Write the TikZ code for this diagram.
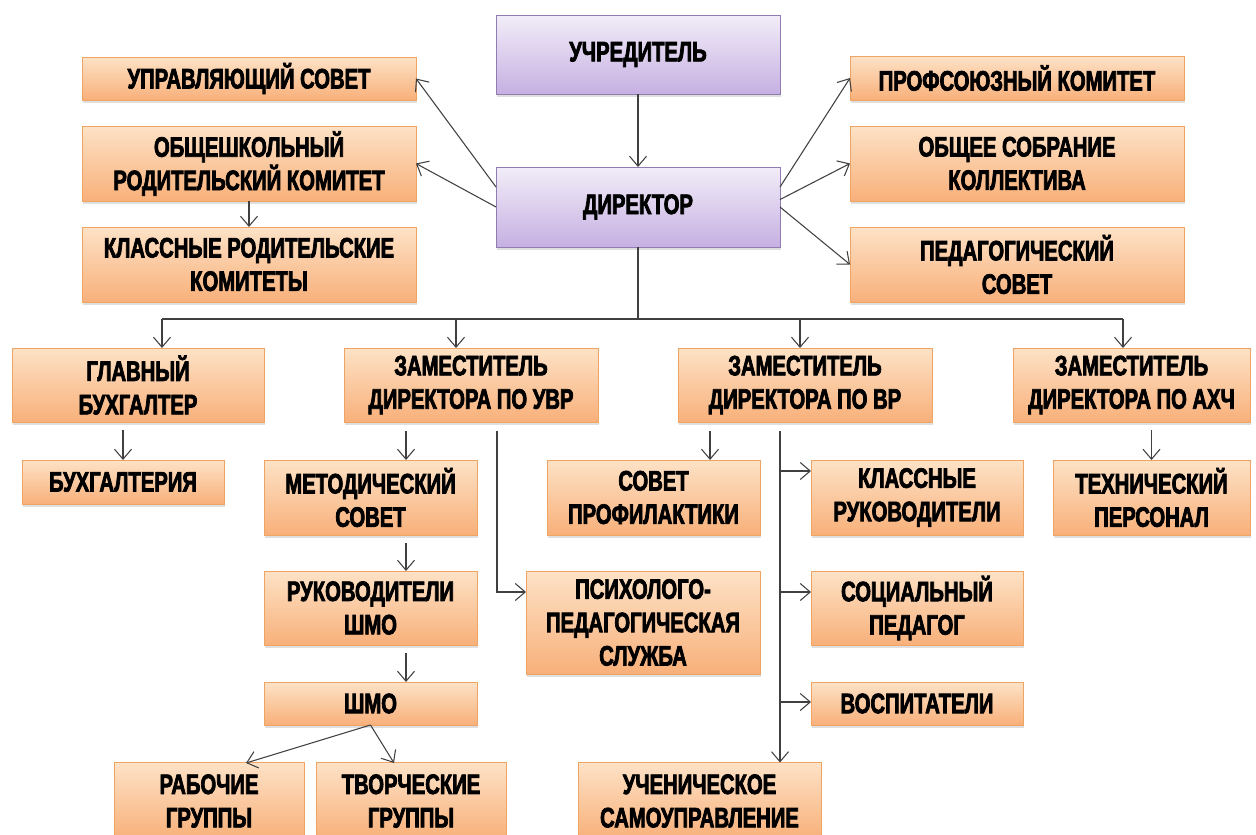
\documentclass[tikz,border=0pt]{standalone}
\usepackage{fontspec}
\newfontfamily\boxfont[FakeStretch=0.72,FakeBold=2.6]{Liberation Sans Bold}
\usetikzlibrary{arrows.meta,shadows}
\definecolor{orgtop}{HTML}{FDE2C6}
\definecolor{orgbot}{HTML}{F8B07A}
\definecolor{orgline}{HTML}{EFA464}
\definecolor{purtop}{HTML}{F2EDF8}
\definecolor{purbot}{HTML}{C6B0E2}
\definecolor{purline}{HTML}{8F7DB2}
\definecolor{conn}{HTML}{404040}

\begin{document}
\begin{tikzpicture}[x=0.02cm,y=-0.02cm, >={Straight Barb[length=2mm,width=3.4mm]},
  obox/.style={rectangle, inner sep=0pt, outer sep=0pt, draw=orgline, line width=0.5pt,
    top color=orgtop, bottom color=orgbot, align=center,
    font=\boxfont\fontsize{16}{19}\selectfont,
    drop shadow={opacity=0.25, shadow xshift=0.6pt, shadow yshift=-1.6pt}},
  pbox/.style={obox, draw=purline, top color=purtop, bottom color=purbot},
  link/.style={draw=conn, line width=0.6pt},
  gap/.style={shorten <=0.16cm}]
\useasboundingbox (0,0) rectangle (1256,834);
\fill[white] (0,0) rectangle (1256,834);

\node (uchr) at (638,54.5) [pbox, minimum width=5.68cm, minimum height=1.58cm] {УЧРЕДИТЕЛЬ};
\node (dir) at (638,207) [pbox, minimum width=5.68cm, minimum height=1.6cm] {ДИРЕКТОР};

\node (upr) at (249,78.5) [obox, minimum width=6.68cm, minimum height=0.86cm] {УПРАВЛЯЮЩИЙ СОВЕТ};
\node (obsh) at (249,163.5) [obox, minimum width=6.68cm, minimum height=1.5cm] {ОБЩЕШКОЛЬНЫЙ\\РОДИТЕЛЬСКИЙ КОМИТЕТ};
\node (klrod) at (249,264.5) [obox, minimum width=6.68cm, minimum height=1.5cm] {КЛАССНЫЕ РОДИТЕЛЬСКИЕ\\КОМИТЕТЫ};

\node (prof) at (1017,78) [obox, minimum width=6.68cm, minimum height=0.88cm] {ПРОФСОЮЗНЫЙ КОМИТЕТ};
\node (sobr) at (1017,163.5) [obox, minimum width=6.68cm, minimum height=1.5cm] {ОБЩЕЕ СОБРАНИЕ\\КОЛЛЕКТИВА};
\node (ped) at (1017,264.5) [obox, minimum width=6.68cm, minimum height=1.5cm] {ПЕДАГОГИЧЕСКИЙ\\СОВЕТ};

\node (glb) at (138,385) [obox, minimum width=5.04cm, minimum height=1.48cm] {ГЛАВНЫЙ\\БУХГАЛТЕР};
\node (zuvr) at (471,385) [obox, minimum width=5.08cm, minimum height=1.48cm] {ЗАМЕСТИТЕЛЬ\\ДИРЕКТОРА ПО УВР};
\node (zvr) at (805,385) [obox, minimum width=5.08cm, minimum height=1.48cm] {ЗАМЕСТИТЕЛЬ\\ДИРЕКТОРА ПО ВР};
\node (zahch) at (1131.5,385) [obox, minimum width=4.74cm, minimum height=1.48cm] {ЗАМЕСТИТЕЛЬ\\ДИРЕКТОРА ПО АХЧ};

\node (buh) at (123,482) [obox, minimum width=4.04cm, minimum height=0.88cm] {БУХГАЛТЕРИЯ};
\node (met) at (370.5,497.5) [obox, minimum width=4.26cm, minimum height=1.5cm] {МЕТОДИЧЕСКИЙ\\СОВЕТ};
\node (ruk) at (370.5,608) [obox, minimum width=4.26cm, minimum height=1.48cm] {РУКОВОДИТЕЛИ\\ШМО};
\node (shmo) at (370.5,703.5) [obox, minimum width=4.26cm, minimum height=0.86cm] {ШМО};
\node (rab) at (209,801) [obox, minimum width=3.8cm, minimum height=1.54cm] {РАБОЧИЕ\\ГРУППЫ};
\node (tvor) at (411,801) [obox, minimum width=3.8cm, minimum height=1.54cm] {ТВОРЧЕСКИЕ\\ГРУППЫ};

\node (sovpr) at (653.5,497.5) [obox, minimum width=4.26cm, minimum height=1.5cm] {СОВЕТ\\ПРОФИЛАКТИКИ};
\node (psih) at (643,622.5) [obox, minimum width=4.68cm, minimum height=2.06cm] {ПСИХОЛОГО-\\ПЕДАГОГИЧЕСКАЯ\\СЛУЖБА};
\node (uch) at (699.5,801) [obox, minimum width=4.86cm, minimum height=1.54cm] {УЧЕНИЧЕСКОЕ\\САМОУПРАВЛЕНИЕ};

\node (klruk) at (917,497.5) [obox, minimum width=4.24cm, minimum height=1.5cm] {КЛАССНЫЕ\\РУКОВОДИТЕЛИ};
\node (soc) at (917,608) [obox, minimum width=4.24cm, minimum height=1.48cm] {СОЦИАЛЬНЫЙ\\ПЕДАГОГ};
\node (vosp) at (917,703.5) [obox, minimum width=4.24cm, minimum height=0.86cm] {ВОСПИТАТЕЛИ};

\node (tech) at (1151.5,497.5) [obox, minimum width=3.94cm, minimum height=1.5cm] {ТЕХНИЧЕСКИЙ\\ПЕРСОНАЛ};

\coordinate (bus) at (638,319);
\coordinate (bgl) at (162,319);
\coordinate (buvr) at (456,319);
\coordinate (bvr) at (800,319);
\coordinate (bahch) at (1123,319);
\coordinate (col) at (406,431);
\coordinate (prf) at (710,431);
\coordinate (uvr) at (497,431);
\coordinate (uvrp) at (497,592);
\coordinate (vr) at (780,431);
\coordinate (vr1) at (780,471);
\coordinate (vr2) at (780,592);
\coordinate (vr3) at (780,702);
\coordinate (rabt) at (246,763);
\coordinate (tvort) at (394,763);

\draw[->, link] (uchr) -- (dir);
\draw[->, link] (dir.172) -- (upr.east);
\draw[->, link] (dir.west) -- (obsh.east);
\draw[->, link] (dir.8) -- (prof.west);
\draw[->, link] (dir.3) -- (sobr.west);
\draw[->, link] (dir.east) -- (ped.west);
\draw[->, link] (obsh) -- (klrod);

\draw[link] (dir) -- (bus);
\draw[link] (bgl) -- (bahch);
\draw[->, link] (bgl) -- (bgl |- glb.north);
\draw[->, link] (buvr) -- (buvr |- zuvr.north);
\draw[->, link] (bvr) -- (bvr |- zvr.north);
\draw[->, link] (bahch) -- (bahch |- zahch.north);

\draw[->, link, gap] (glb.south -| buh.north) -- (buh);
\draw[->, link] (col) -- (col |- met.north);
\draw[->, link, gap] (met.south -| col) -- (col |- ruk.north);
\draw[->, link, gap] (ruk.south -| col) -- (col |- shmo.north);
\draw[->, link] (shmo.south) -- (rabt);
\draw[->, link] (shmo.south) -- (tvort);
\draw[->, link] (uvr) -- (uvrp) -- (uvrp -| psih.west);

\draw[->, link] (prf) -- (prf |- sovpr.north);
\draw[->, link] (vr) -- (vr |- uch.north);
\draw[->, link] (vr1) -- (vr1 -| klruk.west);
\draw[->, link] (vr2) -- (vr2 -| soc.west);
\draw[->, link] (vr3) -- (vr3 -| vosp.west);

\draw[->, link, gap] (zahch.south -| tech.north) -- (tech);
\end{tikzpicture}
\end{document}
